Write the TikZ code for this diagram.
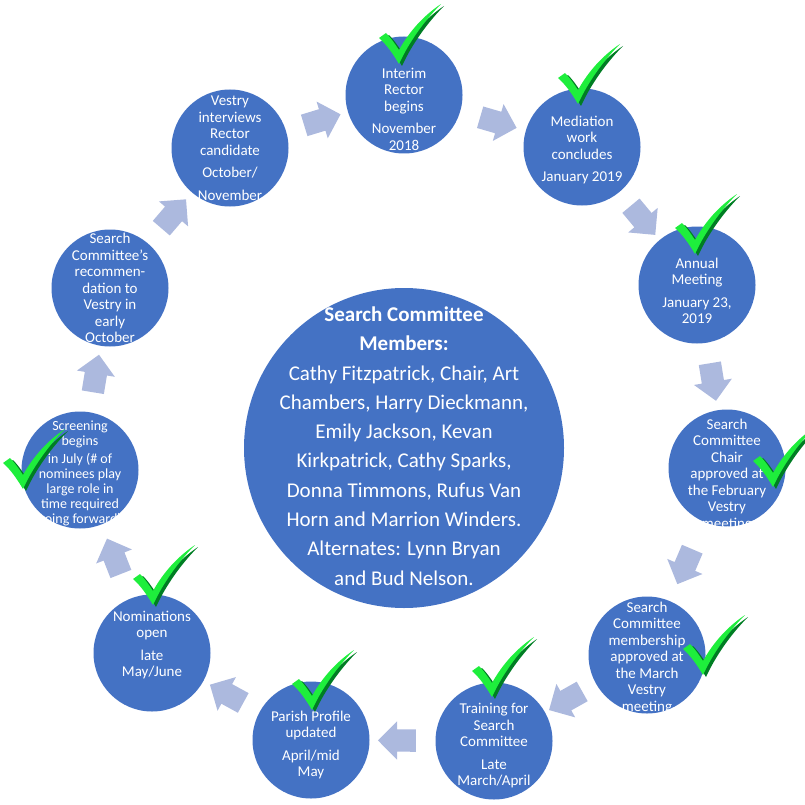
\documentclass[tikz,border=0pt]{standalone}
\usepackage{fontspec}
\setmainfont{Carlito}
\usetikzlibrary{positioning,calc,shapes.arrows}

\definecolor{stageblue}{RGB}{68,114,196}
\definecolor{flowblue}{RGB}{172,185,222}
\definecolor{tickgreen}{RGB}{30,238,60}
\definecolor{tickdark}{RGB}{0,125,35}

\tikzset{
  stage/.style={circle, fill=stageblue, minimum size=117pt, inner sep=0pt},
  stagetext/.style={text=white, align=center, inner sep=0pt,
    font=\fontsize{15}{16.5}\selectfont},
  flowarrow/.style={single arrow, fill=flowblue, inner xsep=0pt, inner ysep=11pt,
    minimum height=38pt, single arrow head extend=8pt},
  tick/.pic={
    \fill[tickdark, shift={(3,2)}] (0,2) .. controls (-6,-8) and (-12,-17) .. (-20,-24)
      -- (-13,-29) .. controls (-8,-24) and (-4,-18) .. (0,-12)
      .. controls (10,-30) and (24,-46) .. (42,-58)
      .. controls (26,-42) and (10,-20) .. (0,2) -- cycle;
    \fill[tickgreen] (0,2) .. controls (-6,-8) and (-12,-17) .. (-20,-24)
      -- (-13,-29) .. controls (-8,-24) and (-4,-18) .. (0,-12)
      .. controls (10,-30) and (24,-46) .. (42,-58)
      .. controls (26,-42) and (10,-20) .. (0,2) -- cycle;
  }
}

\begin{document}
\begin{tikzpicture}[x=1pt, y=-1pt]
  \useasboundingbox (0,0) rectangle (805,805);

  % centre circle
  \node[stage, minimum size=320pt,
    label={[text=white, align=center, inner sep=0pt, yshift=2pt,
      font=\fontsize{21}{29.3}\selectfont]center:{\textbf{Search Committee}\\
      \textbf{Members:}\\
      Cathy Fitzpatrick, Chair, Art\\ Chambers, Harry Dieckmann,\\
      Emily Jackson, Kevan\\ Kirkpatrick, Cathy Sparks,\\
      Donna Timmons, Rufus Van\\ Horn and Marrion Winders.\\
      Alternates: Lynn Bryan\\ and Bud Nelson.}}] (members) at (404,448) {};

  % stages round the cycle
  \node[stage, label={[stagetext, yshift=-14pt]center:{Interim\\Rector\\begins\\[6pt]November\\2018}}]
    (interim) at (404,95) {};
  \node[stage, label={[stagetext, yshift=-3pt]center:{Mediation\\work\\concludes\\[6pt]January 2019}}]
    (mediation) at (582,147) {};
  \node[stage, label={[stagetext, yshift=-6pt]center:{Annual\\Meeting\\[6pt]January 23,\\2019}}]
    (annual) at (697,285) {};
  \node[stage, label={[stagetext, yshift=-7pt]center:{Search\\Committee\\Chair\\approved at\\the February\\Vestry\\meeting}}]
    (chair) at (727,468) {};
  \node[stage, label={[stagetext, yshift=-3pt]center:{Search\\Committee\\membership\\approved at\\the March\\Vestry\\meeting}}]
    (membership) at (647,655) {};
  \node[stage, label={[stagetext, yshift=-5pt]center:{Training for\\Search\\Committee\\[6pt]Late\\March/April}}]
    (training) at (494,741) {};
  \node[stage, label={[stagetext, yshift=-5pt]center:{Parish Profile\\updated\\[6pt]April/mid\\May}}]
    (parish) at (311,740) {};
  \node[stage, label={[stagetext, yshift=8pt]center:{Nominations\\open\\[6pt]late\\May/June}}]
    (nominations) at (152,653) {};
  \node[stage, label={[stagetext, yshift=-3pt, font=\fontsize{14}{15}\selectfont]center:{Screening\\begins\\[3pt]in July (\# of\\nominees play\\large role in\\time required\\going forward)}}]
    (screening) at (80,470) {};
  \node[stage, label={[stagetext]center:{Search\\Committee's\\recommen-\\dation to\\Vestry in\\early\\October}}]
    (recommend) at (110,288) {};
  \node[stage, label={[stagetext]center:{Vestry\\interviews\\Rector\\candidate\\[6pt]October/\\[6pt]November}}]
    (vestry) at (230,148) {};

  % block arrows between neighbours
  \foreach \a/\b in {interim/mediation, mediation/annual, annual/chair, chair/membership,
      membership/training, training/parish, parish/nominations, nominations/screening,
      screening/recommend, recommend/vestry, vestry/interim}
    \path let \p1=($(\b)-(\a)$), \n1={atan2(\y1,\x1)} in
      node[flowarrow, rotate=\n1] (\a-\b) at ($(\a)!0.5!(\b)$) {};

  % check marks
  \foreach \p in {(399,62), (578,102), (695,252), (773,485), (703,673),
      (492,695), (312,708), (153,603), (23,487)}
    \pic at \p {tick};
\end{tikzpicture}
\end{document}
